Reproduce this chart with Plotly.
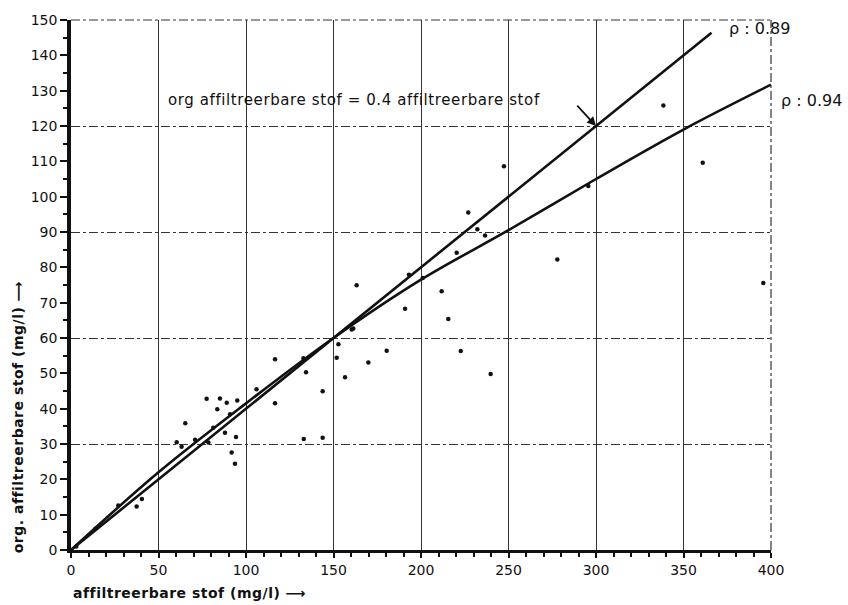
import plotly.graph_objects as go

# Measured samples: suspended solids vs. organic suspended solids (mg/l)
solids_x = [3, 14, 27, 37.5, 40.5, 60.4, 63.2, 65.3, 70.9, 77.5, 78.5, 81.3, 83.6, 85.1,
            88, 89, 90.9, 91.8, 93.7, 94.3, 95, 106, 116.6, 116.6, 133, 132.8, 134.3,
            143.8, 143.8, 151.8, 152.8, 156.6, 160.4, 161.3, 163.2, 169.9, 180.4, 190.9,
            193.1, 201, 211.8, 215.6, 220.4, 222.7, 227, 232.2, 236.6, 239.8, 247.4,
            277.9, 295.6, 338.5, 361, 395.6]
organic_y = [1, 6, 12.6, 12.3, 14.4, 30.5, 29.2, 35.9, 31.2, 42.8, 30.4, 34.6, 39.8, 42.9,
             33.2, 41.7, 38.4, 27.6, 24.4, 32.0, 42.3, 45.5, 54.0, 41.5, 31.4, 54.3, 50.3,
             44.9, 31.8, 54.4, 58.2, 48.9, 62.4, 62.7, 74.9, 53.1, 56.4, 68.3, 77.9, 77.0,
             73.2, 65.4, 84.1, 56.3, 95.5, 90.8, 89.0, 49.8, 108.6, 82.2, 103.0, 125.8,
             109.6, 75.6]

# Straight relation: org = 0.4 * solids  (rho 0.89)
linear_x = [0, 366]
linear_y = [0, 146.4]

# Curved fit (rho 0.94)
curve_x = [0, 50, 100, 150, 200, 250, 300, 350, 400]
curve_y = [0, 22, 41.5, 60, 76.5, 90.5, 105, 119, 131.7]

x_ticks = [0, 50, 100, 150, 200, 250, 300, 350, 400]
y_ticks = [0, 10, 20, 30, 40, 50, 60, 70, 80, 90, 100, 110, 120, 130, 140, 150]

FONT = "DejaVu Sans, Verdana, sans-serif"
INK = "#111111"


def spaced(text, px):
    return f'<span style="letter-spacing:{px}px">{text}</span>'


fig = go.Figure()

fig.add_trace(go.Scatter(x=curve_x, y=curve_y, mode="lines", line=dict(color=INK, width=2.6, shape="spline"),
                         hoverinfo="skip", showlegend=False))
fig.add_trace(go.Scatter(x=linear_x, y=linear_y, mode="lines", line=dict(color=INK, width=2.6),
                         hoverinfo="skip", showlegend=False))
fig.add_trace(go.Scatter(x=solids_x, y=organic_y, mode="markers",
                         marker=dict(color=INK, size=4.5), showlegend=False))

# overlay axis carrying the horizontal grid every 30 mg/l
fig.add_trace(go.Scatter(x=[0], y=[0], yaxis="y2", mode="markers", marker=dict(opacity=0),
                         hoverinfo="skip", showlegend=False))

fig.update_layout(
    width=848, height=605,
    margin=dict(l=71, r=77, t=16, b=55),
    paper_bgcolor="white", plot_bgcolor="white",
    font=dict(family=FONT, color=INK),
    xaxis=dict(range=[0, 400], tickvals=x_ticks, ticktext=[str(v) for v in x_ticks],
               showgrid=True, gridcolor="#333333", gridwidth=1,
               showline=True, linecolor=INK, linewidth=3,
               ticks="outside", ticklen=5, tickwidth=1.5, tickcolor=INK,
               minor=dict(dtick=10, ticks="outside", ticklen=4, tickcolor=INK, showgrid=False),
               tickfont=dict(size=14, family=FONT), zeroline=False),
    yaxis=dict(range=[0, 150], tickvals=y_ticks, ticktext=[str(v) for v in y_ticks],
               showgrid=False, showline=True, linecolor=INK, linewidth=3.5,
               ticks="outside", ticklen=7, tickwidth=1.5, tickcolor=INK,
               minor=dict(dtick=5, ticks="outside", ticklen=4, tickcolor=INK, showgrid=False),
               tickfont=dict(size=14, family=FONT), zeroline=False),
    yaxis2=dict(range=[0, 150], overlaying="y", side="left", dtick=30,
                showticklabels=False, showgrid=True, gridcolor="#333333", gridwidth=1,
                griddash="dashdot", zeroline=False, showline=False, ticks=""),
)

# dash-dot frame along the top and right edges of the plot area
fig.add_shape(type="line", xref="paper", yref="paper", x0=0, x1=1, y0=1, y1=1,
              line=dict(color="#333333", width=1.2, dash="dashdot"), layer="below")
fig.add_shape(type="line", xref="paper", yref="paper", x0=1, x1=1, y0=0, y1=1,
              line=dict(color="#333333", width=1.2, dash="dashdot"), layer="below")

fig.add_annotation(x=54.5, y=127.3, xref="x", yref="y", xanchor="left", yanchor="middle",
                   text=spaced("org affiltreerbare stof = 0.4 affiltreerbare stof", 0.6),
                   showarrow=False, font=dict(size=15, family=FONT, color=INK))
fig.add_annotation(x=300, y=120, xref="x", yref="y", ax=288.5, ay=126.2, axref="x", ayref="y",
                   text="", showarrow=True, arrowhead=2, arrowsize=1, arrowwidth=1.8, arrowcolor=INK)
fig.add_annotation(x=(727 - 71) / 700, y=(550 - 25) / 534, xref="paper", yref="paper",
                   xanchor="left", yanchor="middle",
                   text="ρ : 0.89", showarrow=False, font=dict(size=16, family=FONT, color=INK))
fig.add_annotation(x=(779 - 71) / 700, y=(550 - 97) / 534, xref="paper", yref="paper",
                   xanchor="left", yanchor="middle",
                   text="ρ : 0.94", showarrow=False, font=dict(size=16, family=FONT, color=INK))

fig.add_annotation(x=0, y=-0.082, xref="paper", yref="paper", xanchor="left", yanchor="middle",
                   text="<b>" + spaced("affiltreerbare stof (mg/l)", 0.5) + " ⟶</b>", showarrow=False,
                   font=dict(size=14, family=FONT, color=INK))
fig.add_annotation(x=-0.076, y=0.25, xref="paper", yref="paper", xanchor="center", yanchor="middle",
                   text="<b>" + spaced("org. affiltreerbare stof (mg/l)", 0.5) + " ⟶</b>",
                   textangle=-90, showarrow=False,
                   font=dict(size=14, family=FONT, color=INK))

fig.write_html("out.html")
